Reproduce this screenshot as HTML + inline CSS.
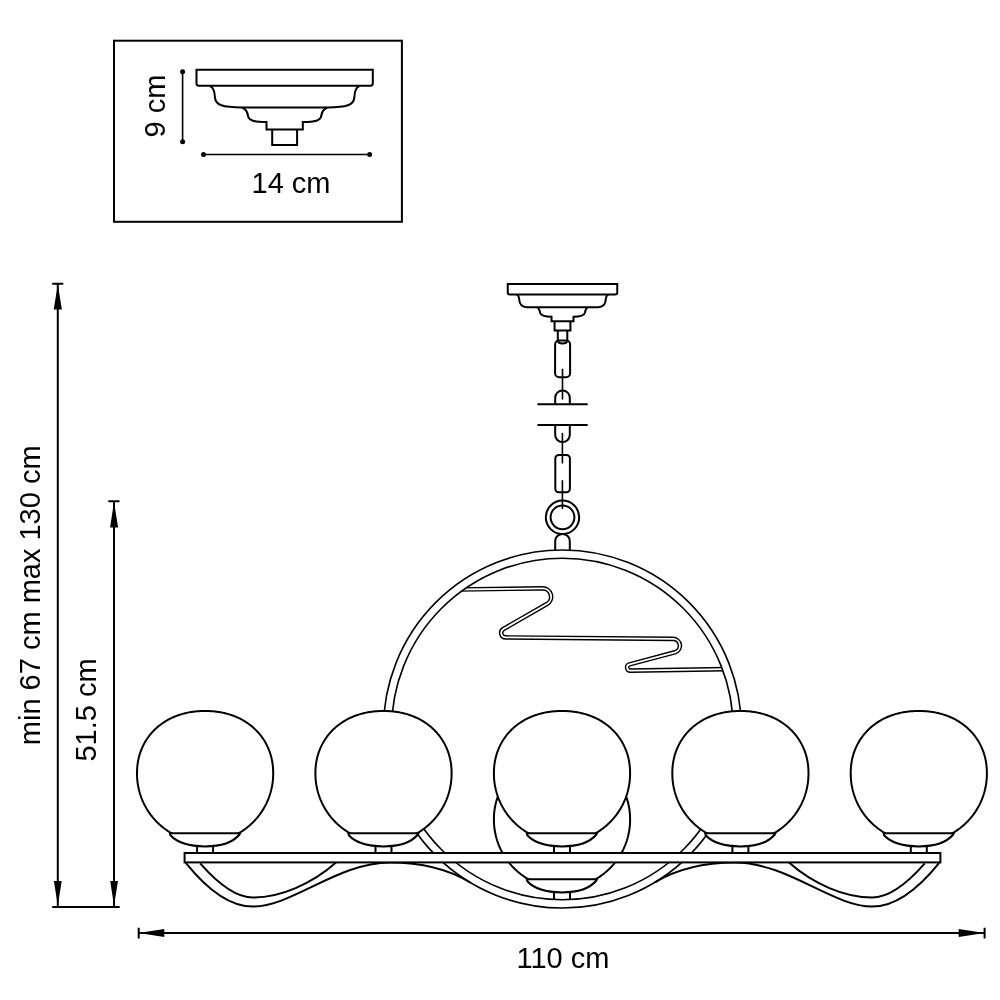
<!DOCTYPE html>
<html><head><meta charset="utf-8"><style>
html,body{margin:0;padding:0;background:#fff;}
body{width:1000px;height:1000px;overflow:hidden;}
svg{display:block;will-change:transform;}
</style></head><body>
<svg width="1000" height="1000" viewBox="0 0 1000 1000">
<style>
path,line,rect,circle,polygon{fill:none;stroke:#000;stroke-width:2;}
.wf{fill:#fff;}
.blk{fill:#000;stroke:none;}
text{font-family:"Liberation Sans",sans-serif;fill:#000;}
</style>
<rect x="114" y="40.7" width="287.9" height="181.1" />
<path class="wf" d="M196.5,69.7 L372.8,69.7 L372.8,83.6 Q372.8,85.7 370.7,85.7 L198.6,85.7 Q196.5,85.7 196.5,83.6 Z" />
<path d="M210,86 C214.3,88 214.6,93 215,98 C216,105 222,107.3 242,107.5 L327.3,107.5 C347.3,107.3 353.3,105 354.3,98 C354.7,93 355,88 359.3,86" />
<path d="M242,107.5 C246,109 247.5,112 248,116 C249,120.5 254,122 266.5,122 L266.5,129.5 L302.8,129.5 L302.8,122 C315.3,122 320.3,120.5 321.3,116 C321.8,112 323.3,109 327.3,107.5" />
<path d="M272.2,129.5 L272.2,145 L297.1,145 L297.1,129.5" />
<path style="stroke-width:1.6" d="M182.6,71.6 L182.6,141.7 M203.5,154.5 L369.6,154.5" />
<circle class="blk" cx="182.6" cy="71.8" r="2.5" />
<circle class="blk" cx="182.6" cy="141.7" r="2.5" />
<circle class="blk" cx="203.5" cy="154.5" r="2.5" />
<circle class="blk" cx="369.6" cy="154.5" r="2.5" />
<text x="291" y="192.8" font-size="29" text-anchor="middle">14 cm</text>
<text transform="translate(164.7,106) rotate(-90)" x="0" y="0" font-size="29" text-anchor="middle">9 cm</text>
<path d="M57.8,284 L57.8,906 M114,501.5 L114,906 M52.2,906.9 L119.7,906.9 M52.2,283.8 L63.3,283.8 M108.3,501.3 L119.5,501.3" />
<path d="M138.7,932.9 L984.6,932.9 M138.7,927.8 L138.7,938.4 M984.6,927.8 L984.6,938.4" />
<polygon class="blk" points="57.8,284.4 53.7,309.6 61.9,309.6" />
<polygon class="blk" points="57.8,905.8 53.9,881 61.7,881" />
<polygon class="blk" points="114,501.7 110.1,527.6 118.1,527.6" />
<polygon class="blk" points="114,905.8 110.2,881 118,881" />
<polygon class="blk" points="138.7,932.9 164.3,929 164.3,936.9" />
<polygon class="blk" points="984.6,932.9 958.7,929 958.7,936.9" />
<text x="563" y="968.2" font-size="29" text-anchor="middle">110 cm</text>
<text transform="translate(39.5,595.3) rotate(-90)" font-size="29" text-anchor="middle">min 67 cm max 130 cm</text>
<text transform="translate(95.8,710) rotate(-90)" font-size="29" text-anchor="middle">51.5 cm</text>
<path class="wf" d="M507.75,284 L617.25,284 L617.25,292.4 Q617.25,294.4 615.25,294.4 L509.75,294.4 Q507.75,294.4 507.75,292.4 Z" />
<path d="M516.5,294.6 C518.6,295.2 519.2,297 519.3,300 C519.6,304.5 521.5,307 527,307.2 L537.5,307.3 L587.5,307.3 L598,307.2 C603.5,307 605.4,304.5 605.7,300 C605.8,297 606.4,295.2 608.5,294.6 " />
<path d="M537.5,307.6 C539.4,308.4 539.8,310.8 540.2,313 C541,315.6 544,316.7 551.5,316.75 L551.5,321.25 L573.5,321.25 L573.5,316.75 C581,316.7 584,315.6 584.8,313 C585.2,310.8 585.6,308.4 587.5,307.6 " />
<path d="M554.6,321.25 L554.6,330.6 L570.4,330.6 L570.4,321.25" />
<path d="M557.8,330.6 L557.8,340 Q557.8,343.5 562.5,343.5 Q567.3,343.5 567.3,340 L567.3,330.6" />
<rect x="555.1" y="340.6" width="15" height="36.6" rx="4" />
<path style="stroke-width:1.6" d="M562.5,368.7 L562.5,399.5" />
<path d="M555.2,404.3 L555.2,397.8 A7.3,7.3 0 0 1 569.8,397.8 L569.8,404.3" />
<path d="M537.4,404.3 L587.7,404.3 M537.4,425 L587.7,425" />
<path d="M555.2,425 L555.2,434.8 A7.3,7.3 0 0 0 569.8,434.8 L569.8,425" />
<path style="stroke-width:1.6" d="M562.4,433 L562.4,463.5" />
<rect x="555.3" y="455" width="14.6" height="37.2" rx="3.5" />
<path style="stroke-width:1.6" d="M562.4,480.2 L562.4,509" />
<circle cx="562.5" cy="517.3" r="16.7" />
<circle cx="562.5" cy="517.3" r="11.9" />
<path d="M555.2,551 L555.2,541.2 A7.3,7.3 0 0 1 569.8,541.2 L569.8,551" />
<path style="stroke-width:4.6;stroke-linejoin:round" d="M458,589.5 L542.6,588.35 A8.4,8.4 0 0 1 546.9,604.03 L503.47,629.01 A4.5,4.5 0 0 0 505.67,637.41 L673.16,638.89 A6.8,6.8 0 0 1 674.85,652.26 L629.53,664.37 A3.2,3.2 0 0 0 630.41,670.66 L726,669.12" />
<path style="stroke:#fff;stroke-width:1.8;stroke-linejoin:round" d="M458,589.5 L542.6,588.35 A8.4,8.4 0 0 1 546.9,604.03 L503.47,629.01 A4.5,4.5 0 0 0 505.67,637.41 L673.16,638.89 A6.8,6.8 0 0 1 674.85,652.26 L629.53,664.37 A3.2,3.2 0 0 0 630.41,670.66 L726,669.12" />
<circle cx="562.4" cy="729.0" r="174.9" style="stroke-width:9.8" />
<circle cx="562.4" cy="729.0" r="174.9" style="stroke:#fff;stroke-width:6.6" />
<path d="M185.8,862.8 C198,878 224,906.6 253,906.6 C292,906.6 338,862.5 390,862.5 C420,862.5 448.6,869.4 470,882.3" />
<path d="M200.2,863.4 C213,878 233,897.6 253,897.6 C280,897.6 312,884 336,862.6" />
<path d="M939.2,862.8 C927,878 901,906.6 872,906.6 C833,906.6 787,862.5 735,862.5 C705,862.5 676.4,869.4 655,882.3" />
<path d="M924.8,863.4 C912,878 892,897.6 872,897.6 C845,897.6 813,884 789,862.6" />
<path class="wf" d="M630.1,819.6 L630.08,817.59 L630.01,815.73 L629.9,813.93 L629.75,812.16 L629.55,810.43 L629.31,808.72 L629.02,807.04 L628.7,805.37 L628.32,803.73 L627.91,802.11 L627.45,800.51 L626.95,798.93 L626.41,797.36 L625.82,795.82 L625.2,794.31 L624.53,792.81 L623.82,791.33 L623.08,789.88 L622.29,788.45 L621.46,787.05 L620.59,785.67 L619.69,784.31 L618.74,782.98 L617.76,781.68 L616.74,780.41 L615.68,779.16 L614.59,777.94 L613.47,776.75 L612.3,775.59 L611.11,774.46 L609.88,773.36 L608.62,772.29 L607.32,771.25 L606,770.25 L604.64,769.28 L603.25,768.34 L601.83,767.44 L600.39,766.57 L598.91,765.74 L597.41,764.94 L595.88,764.18 L594.33,763.46 L592.75,762.77 L591.15,762.12 L589.52,761.51 L587.86,760.93 L586.19,760.39 L584.49,759.89 L582.77,759.43 L581.03,759.01 L579.26,758.63 L577.48,758.29 L575.67,757.99 L573.83,757.73 L571.97,757.51 L570.09,757.32 L568.17,757.18 L566.21,757.08 L564.19,757.02 L562,757 L559.81,757.02 L557.79,757.08 L555.83,757.18 L553.91,757.32 L552.03,757.51 L550.17,757.73 L548.33,757.99 L546.52,758.29 L544.74,758.63 L542.97,759.01 L541.23,759.43 L539.51,759.89 L537.81,760.39 L536.14,760.93 L534.48,761.51 L532.85,762.12 L531.25,762.77 L529.67,763.46 L528.12,764.18 L526.59,764.94 L525.09,765.74 L523.61,766.57 L522.17,767.44 L520.75,768.34 L519.36,769.28 L518,770.25 L516.68,771.25 L515.38,772.29 L514.12,773.36 L512.89,774.46 L511.7,775.59 L510.53,776.75 L509.41,777.94 L508.32,779.16 L507.26,780.41 L506.24,781.68 L505.26,782.98 L504.31,784.31 L503.41,785.67 L502.54,787.05 L501.71,788.45 L500.92,789.88 L500.18,791.33 L499.47,792.81 L498.8,794.31 L498.18,795.82 L497.59,797.36 L497.05,798.93 L496.55,800.51 L496.09,802.11 L495.68,803.73 L495.3,805.37 L494.98,807.04 L494.69,808.72 L494.45,810.43 L494.25,812.16 L494.1,813.93 L493.99,815.73 L493.92,817.59 L493.9,819.6 L493.92,821.39 L493.99,823.19 L494.11,824.97 L494.27,826.76 L494.48,828.54 L494.74,830.32 L495.04,832.08 L495.39,833.84 L495.78,835.59 L496.22,837.33 L496.7,839.06 L497.23,840.77 L497.81,842.47 L498.42,844.15 L499.08,845.81 L499.79,847.46 L500.53,849.09 L501.32,850.7 L502.15,852.29 L503.02,853.85 L503.94,855.39 L504.89,856.91 L505.88,858.4 L506.91,859.86 L507.97,861.3 L509.08,862.71 L510.22,864.09 L511.39,865.44 L512.6,866.75 L513.85,868.04 L515.12,869.29 L516.43,870.51 L517.77,871.69 L519.14,872.83 L520.54,873.94 L521.97,875.02 L523.43,876.05 L524.91,877.05 L526.42,878.01 L527.95,878.92 L529.51,879.8 L531.08,880.63 L532.68,881.43 L534.3,882.18 L535.94,882.89 L537.6,883.55 L539.27,884.17 L540.96,884.75 L542.66,885.28 L544.37,885.77 L546.1,886.21 L547.84,886.6 L549.59,886.95 L551.35,887.26 L553.11,887.51 L554.88,887.72 L556.66,887.89 L558.44,888.01 L560.22,888.08 L562,888.1 L563.78,888.08 L565.56,888.01 L567.34,887.89 L569.12,887.72 L570.89,887.51 L572.65,887.26 L574.41,886.95 L576.16,886.6 L577.9,886.21 L579.63,885.77 L581.34,885.28 L583.04,884.75 L584.73,884.17 L586.4,883.55 L588.06,882.89 L589.7,882.18 L591.32,881.43 L592.92,880.63 L594.49,879.8 L596.05,878.92 L597.58,878.01 L599.09,877.05 L600.57,876.05 L602.03,875.02 L603.46,873.94 L604.86,872.83 L606.23,871.69 L607.57,870.51 L608.88,869.29 L610.15,868.04 L611.4,866.75 L612.61,865.44 L613.78,864.09 L614.92,862.71 L616.03,861.3 L617.09,859.86 L618.12,858.4 L619.11,856.91 L620.06,855.39 L620.98,853.85 L621.85,852.29 L622.68,850.7 L623.47,849.09 L624.21,847.46 L624.92,845.81 L625.58,844.15 L626.19,842.47 L626.77,840.77 L627.3,839.06 L627.78,837.33 L628.22,835.59 L628.61,833.84 L628.96,832.08 L629.26,830.32 L629.52,828.54 L629.73,826.76 L629.89,824.97 L630.01,823.19 L630.08,821.39 Z" />
<path class="wf" d="M526.8,879.3 L597,879.3 L596.4,880.5 C589,889.4 576,892.4 562,892.4 C548,892.4 534.3,888.9 527.3,881.3 Z" />
<path d="M554,891.9 L554,899 M570,891.9 L570,899" />
<rect class="wf" x="184.6" y="853" width="755.8" height="9.4" />
<path class="wf" d="M273.2,773.6 L273.18,771.59 L273.11,769.73 L273,767.93 L272.85,766.16 L272.65,764.43 L272.41,762.72 L272.12,761.04 L271.8,759.37 L271.42,757.73 L271.01,756.11 L270.55,754.51 L270.05,752.93 L269.51,751.36 L268.92,749.82 L268.3,748.31 L267.63,746.81 L266.92,745.33 L266.18,743.88 L265.39,742.45 L264.56,741.05 L263.69,739.67 L262.79,738.31 L261.84,736.98 L260.86,735.68 L259.84,734.41 L258.78,733.16 L257.69,731.94 L256.57,730.75 L255.4,729.59 L254.21,728.46 L252.98,727.36 L251.72,726.29 L250.42,725.25 L249.1,724.25 L247.74,723.28 L246.35,722.34 L244.93,721.44 L243.49,720.57 L242.01,719.74 L240.51,718.94 L238.98,718.18 L237.43,717.46 L235.85,716.77 L234.25,716.12 L232.62,715.51 L230.96,714.93 L229.29,714.39 L227.59,713.89 L225.87,713.43 L224.13,713.01 L222.36,712.63 L220.58,712.29 L218.77,711.99 L216.93,711.73 L215.07,711.51 L213.19,711.32 L211.27,711.18 L209.31,711.08 L207.29,711.02 L205.1,711 L202.91,711.02 L200.89,711.08 L198.93,711.18 L197.01,711.32 L195.13,711.51 L193.27,711.73 L191.43,711.99 L189.62,712.29 L187.84,712.63 L186.07,713.01 L184.33,713.43 L182.61,713.89 L180.91,714.39 L179.24,714.93 L177.58,715.51 L175.95,716.12 L174.35,716.77 L172.77,717.46 L171.22,718.18 L169.69,718.94 L168.19,719.74 L166.71,720.57 L165.27,721.44 L163.85,722.34 L162.46,723.28 L161.1,724.25 L159.78,725.25 L158.48,726.29 L157.22,727.36 L155.99,728.46 L154.8,729.59 L153.63,730.75 L152.51,731.94 L151.42,733.16 L150.36,734.41 L149.34,735.68 L148.36,736.98 L147.41,738.31 L146.51,739.67 L145.64,741.05 L144.81,742.45 L144.02,743.88 L143.28,745.33 L142.57,746.81 L141.9,748.31 L141.28,749.82 L140.69,751.36 L140.15,752.93 L139.65,754.51 L139.19,756.11 L138.78,757.73 L138.4,759.37 L138.08,761.04 L137.79,762.72 L137.55,764.43 L137.35,766.16 L137.2,767.93 L137.09,769.73 L137.02,771.59 L137,773.6 L137.02,775.39 L137.09,777.19 L137.21,778.97 L137.37,780.76 L137.58,782.54 L137.84,784.32 L138.14,786.08 L138.49,787.84 L138.88,789.59 L139.32,791.33 L139.8,793.06 L140.33,794.77 L140.91,796.47 L141.52,798.15 L142.18,799.81 L142.89,801.46 L143.63,803.09 L144.42,804.7 L145.25,806.29 L146.12,807.85 L147.04,809.39 L147.99,810.91 L148.98,812.4 L150.01,813.86 L151.07,815.3 L152.18,816.71 L153.32,818.09 L154.49,819.44 L155.7,820.75 L156.95,822.04 L158.22,823.29 L159.53,824.51 L160.87,825.69 L162.24,826.83 L163.64,827.94 L165.07,829.02 L166.53,830.05 L168.01,831.05 L169.52,832.01 L171.05,832.92 L172.61,833.8 L174.18,834.63 L175.78,835.43 L177.4,836.18 L179.04,836.89 L180.7,837.55 L182.37,838.17 L184.06,838.75 L185.76,839.28 L187.47,839.77 L189.2,840.21 L190.94,840.6 L192.69,840.95 L194.45,841.26 L196.21,841.51 L197.98,841.72 L199.76,841.89 L201.54,842.01 L203.32,842.08 L205.1,842.1 L206.88,842.08 L208.66,842.01 L210.44,841.89 L212.22,841.72 L213.99,841.51 L215.75,841.26 L217.51,840.95 L219.26,840.6 L221,840.21 L222.73,839.77 L224.44,839.28 L226.14,838.75 L227.83,838.17 L229.5,837.55 L231.16,836.89 L232.8,836.18 L234.42,835.43 L236.02,834.63 L237.59,833.8 L239.15,832.92 L240.68,832.01 L242.19,831.05 L243.67,830.05 L245.13,829.02 L246.56,827.94 L247.96,826.83 L249.33,825.69 L250.67,824.51 L251.98,823.29 L253.25,822.04 L254.5,820.75 L255.71,819.44 L256.88,818.09 L258.02,816.71 L259.13,815.3 L260.19,813.86 L261.22,812.4 L262.21,810.91 L263.16,809.39 L264.08,807.85 L264.95,806.29 L265.78,804.7 L266.57,803.09 L267.31,801.46 L268.02,799.81 L268.68,798.15 L269.29,796.47 L269.87,794.77 L270.4,793.06 L270.88,791.33 L271.32,789.59 L271.71,787.84 L272.06,786.08 L272.36,784.32 L272.62,782.54 L272.83,780.76 L272.99,778.97 L273.11,777.19 L273.18,775.39 Z" />
<path class="wf" d="M169.9,833.3 L240.1,833.3 L239.5,834.5 C232.1,843.4 219.1,846.4 205.1,846.4 C191.1,846.4 177.4,842.9 170.4,835.3 Z" />
<path d="M197.1,845.9 L197.1,853 M213.1,845.9 L213.1,853" />
<path class="wf" d="M451.6,773.6 L451.58,771.59 L451.51,769.73 L451.4,767.93 L451.25,766.16 L451.05,764.43 L450.81,762.72 L450.52,761.04 L450.2,759.37 L449.82,757.73 L449.41,756.11 L448.95,754.51 L448.45,752.93 L447.91,751.36 L447.32,749.82 L446.7,748.31 L446.03,746.81 L445.32,745.33 L444.58,743.88 L443.79,742.45 L442.96,741.05 L442.09,739.67 L441.19,738.31 L440.24,736.98 L439.26,735.68 L438.24,734.41 L437.18,733.16 L436.09,731.94 L434.97,730.75 L433.8,729.59 L432.61,728.46 L431.38,727.36 L430.12,726.29 L428.82,725.25 L427.5,724.25 L426.14,723.28 L424.75,722.34 L423.33,721.44 L421.89,720.57 L420.41,719.74 L418.91,718.94 L417.38,718.18 L415.83,717.46 L414.25,716.77 L412.65,716.12 L411.02,715.51 L409.36,714.93 L407.69,714.39 L405.99,713.89 L404.27,713.43 L402.53,713.01 L400.76,712.63 L398.98,712.29 L397.17,711.99 L395.33,711.73 L393.47,711.51 L391.59,711.32 L389.67,711.18 L387.71,711.08 L385.69,711.02 L383.5,711 L381.31,711.02 L379.29,711.08 L377.33,711.18 L375.41,711.32 L373.53,711.51 L371.67,711.73 L369.83,711.99 L368.02,712.29 L366.24,712.63 L364.47,713.01 L362.73,713.43 L361.01,713.89 L359.31,714.39 L357.64,714.93 L355.98,715.51 L354.35,716.12 L352.75,716.77 L351.17,717.46 L349.62,718.18 L348.09,718.94 L346.59,719.74 L345.11,720.57 L343.67,721.44 L342.25,722.34 L340.86,723.28 L339.5,724.25 L338.18,725.25 L336.88,726.29 L335.62,727.36 L334.39,728.46 L333.2,729.59 L332.03,730.75 L330.91,731.94 L329.82,733.16 L328.76,734.41 L327.74,735.68 L326.76,736.98 L325.81,738.31 L324.91,739.67 L324.04,741.05 L323.21,742.45 L322.42,743.88 L321.68,745.33 L320.97,746.81 L320.3,748.31 L319.68,749.82 L319.09,751.36 L318.55,752.93 L318.05,754.51 L317.59,756.11 L317.18,757.73 L316.8,759.37 L316.48,761.04 L316.19,762.72 L315.95,764.43 L315.75,766.16 L315.6,767.93 L315.49,769.73 L315.42,771.59 L315.4,773.6 L315.42,775.39 L315.49,777.19 L315.61,778.97 L315.77,780.76 L315.98,782.54 L316.24,784.32 L316.54,786.08 L316.89,787.84 L317.28,789.59 L317.72,791.33 L318.2,793.06 L318.73,794.77 L319.31,796.47 L319.92,798.15 L320.58,799.81 L321.29,801.46 L322.03,803.09 L322.82,804.7 L323.65,806.29 L324.52,807.85 L325.44,809.39 L326.39,810.91 L327.38,812.4 L328.41,813.86 L329.47,815.3 L330.58,816.71 L331.72,818.09 L332.89,819.44 L334.1,820.75 L335.35,822.04 L336.62,823.29 L337.93,824.51 L339.27,825.69 L340.64,826.83 L342.04,827.94 L343.47,829.02 L344.93,830.05 L346.41,831.05 L347.92,832.01 L349.45,832.92 L351.01,833.8 L352.58,834.63 L354.18,835.43 L355.8,836.18 L357.44,836.89 L359.1,837.55 L360.77,838.17 L362.46,838.75 L364.16,839.28 L365.87,839.77 L367.6,840.21 L369.34,840.6 L371.09,840.95 L372.85,841.26 L374.61,841.51 L376.38,841.72 L378.16,841.89 L379.94,842.01 L381.72,842.08 L383.5,842.1 L385.28,842.08 L387.06,842.01 L388.84,841.89 L390.62,841.72 L392.39,841.51 L394.15,841.26 L395.91,840.95 L397.66,840.6 L399.4,840.21 L401.13,839.77 L402.84,839.28 L404.54,838.75 L406.23,838.17 L407.9,837.55 L409.56,836.89 L411.2,836.18 L412.82,835.43 L414.42,834.63 L415.99,833.8 L417.55,832.92 L419.08,832.01 L420.59,831.05 L422.07,830.05 L423.53,829.02 L424.96,827.94 L426.36,826.83 L427.73,825.69 L429.07,824.51 L430.38,823.29 L431.65,822.04 L432.9,820.75 L434.11,819.44 L435.28,818.09 L436.42,816.71 L437.53,815.3 L438.59,813.86 L439.62,812.4 L440.61,810.91 L441.56,809.39 L442.48,807.85 L443.35,806.29 L444.18,804.7 L444.97,803.09 L445.71,801.46 L446.42,799.81 L447.08,798.15 L447.69,796.47 L448.27,794.77 L448.8,793.06 L449.28,791.33 L449.72,789.59 L450.11,787.84 L450.46,786.08 L450.76,784.32 L451.02,782.54 L451.23,780.76 L451.39,778.97 L451.51,777.19 L451.58,775.39 Z" />
<path class="wf" d="M348.3,833.3 L418.5,833.3 L417.9,834.5 C410.5,843.4 397.5,846.4 383.5,846.4 C369.5,846.4 355.8,842.9 348.8,835.3 Z" />
<path d="M375.5,845.9 L375.5,853 M391.5,845.9 L391.5,853" />
<path class="wf" d="M630.1,773.6 L630.08,771.59 L630.01,769.73 L629.9,767.93 L629.75,766.16 L629.55,764.43 L629.31,762.72 L629.02,761.04 L628.7,759.37 L628.32,757.73 L627.91,756.11 L627.45,754.51 L626.95,752.93 L626.41,751.36 L625.82,749.82 L625.2,748.31 L624.53,746.81 L623.82,745.33 L623.08,743.88 L622.29,742.45 L621.46,741.05 L620.59,739.67 L619.69,738.31 L618.74,736.98 L617.76,735.68 L616.74,734.41 L615.68,733.16 L614.59,731.94 L613.47,730.75 L612.3,729.59 L611.11,728.46 L609.88,727.36 L608.62,726.29 L607.32,725.25 L606,724.25 L604.64,723.28 L603.25,722.34 L601.83,721.44 L600.39,720.57 L598.91,719.74 L597.41,718.94 L595.88,718.18 L594.33,717.46 L592.75,716.77 L591.15,716.12 L589.52,715.51 L587.86,714.93 L586.19,714.39 L584.49,713.89 L582.77,713.43 L581.03,713.01 L579.26,712.63 L577.48,712.29 L575.67,711.99 L573.83,711.73 L571.97,711.51 L570.09,711.32 L568.17,711.18 L566.21,711.08 L564.19,711.02 L562,711 L559.81,711.02 L557.79,711.08 L555.83,711.18 L553.91,711.32 L552.03,711.51 L550.17,711.73 L548.33,711.99 L546.52,712.29 L544.74,712.63 L542.97,713.01 L541.23,713.43 L539.51,713.89 L537.81,714.39 L536.14,714.93 L534.48,715.51 L532.85,716.12 L531.25,716.77 L529.67,717.46 L528.12,718.18 L526.59,718.94 L525.09,719.74 L523.61,720.57 L522.17,721.44 L520.75,722.34 L519.36,723.28 L518,724.25 L516.68,725.25 L515.38,726.29 L514.12,727.36 L512.89,728.46 L511.7,729.59 L510.53,730.75 L509.41,731.94 L508.32,733.16 L507.26,734.41 L506.24,735.68 L505.26,736.98 L504.31,738.31 L503.41,739.67 L502.54,741.05 L501.71,742.45 L500.92,743.88 L500.18,745.33 L499.47,746.81 L498.8,748.31 L498.18,749.82 L497.59,751.36 L497.05,752.93 L496.55,754.51 L496.09,756.11 L495.68,757.73 L495.3,759.37 L494.98,761.04 L494.69,762.72 L494.45,764.43 L494.25,766.16 L494.1,767.93 L493.99,769.73 L493.92,771.59 L493.9,773.6 L493.92,775.39 L493.99,777.19 L494.11,778.97 L494.27,780.76 L494.48,782.54 L494.74,784.32 L495.04,786.08 L495.39,787.84 L495.78,789.59 L496.22,791.33 L496.7,793.06 L497.23,794.77 L497.81,796.47 L498.42,798.15 L499.08,799.81 L499.79,801.46 L500.53,803.09 L501.32,804.7 L502.15,806.29 L503.02,807.85 L503.94,809.39 L504.89,810.91 L505.88,812.4 L506.91,813.86 L507.97,815.3 L509.08,816.71 L510.22,818.09 L511.39,819.44 L512.6,820.75 L513.85,822.04 L515.12,823.29 L516.43,824.51 L517.77,825.69 L519.14,826.83 L520.54,827.94 L521.97,829.02 L523.43,830.05 L524.91,831.05 L526.42,832.01 L527.95,832.92 L529.51,833.8 L531.08,834.63 L532.68,835.43 L534.3,836.18 L535.94,836.89 L537.6,837.55 L539.27,838.17 L540.96,838.75 L542.66,839.28 L544.37,839.77 L546.1,840.21 L547.84,840.6 L549.59,840.95 L551.35,841.26 L553.11,841.51 L554.88,841.72 L556.66,841.89 L558.44,842.01 L560.22,842.08 L562,842.1 L563.78,842.08 L565.56,842.01 L567.34,841.89 L569.12,841.72 L570.89,841.51 L572.65,841.26 L574.41,840.95 L576.16,840.6 L577.9,840.21 L579.63,839.77 L581.34,839.28 L583.04,838.75 L584.73,838.17 L586.4,837.55 L588.06,836.89 L589.7,836.18 L591.32,835.43 L592.92,834.63 L594.49,833.8 L596.05,832.92 L597.58,832.01 L599.09,831.05 L600.57,830.05 L602.03,829.02 L603.46,827.94 L604.86,826.83 L606.23,825.69 L607.57,824.51 L608.88,823.29 L610.15,822.04 L611.4,820.75 L612.61,819.44 L613.78,818.09 L614.92,816.71 L616.03,815.3 L617.09,813.86 L618.12,812.4 L619.11,810.91 L620.06,809.39 L620.98,807.85 L621.85,806.29 L622.68,804.7 L623.47,803.09 L624.21,801.46 L624.92,799.81 L625.58,798.15 L626.19,796.47 L626.77,794.77 L627.3,793.06 L627.78,791.33 L628.22,789.59 L628.61,787.84 L628.96,786.08 L629.26,784.32 L629.52,782.54 L629.73,780.76 L629.89,778.97 L630.01,777.19 L630.08,775.39 Z" />
<path class="wf" d="M526.8,833.3 L597,833.3 L596.4,834.5 C589,843.4 576,846.4 562,846.4 C548,846.4 534.3,842.9 527.3,835.3 Z" />
<path d="M554,845.9 L554,853 M570,845.9 L570,853" />
<path class="wf" d="M808.5,773.6 L808.48,771.59 L808.41,769.73 L808.3,767.93 L808.15,766.16 L807.95,764.43 L807.71,762.72 L807.42,761.04 L807.1,759.37 L806.72,757.73 L806.31,756.11 L805.85,754.51 L805.35,752.93 L804.81,751.36 L804.22,749.82 L803.6,748.31 L802.93,746.81 L802.22,745.33 L801.48,743.88 L800.69,742.45 L799.86,741.05 L798.99,739.67 L798.09,738.31 L797.14,736.98 L796.16,735.68 L795.14,734.41 L794.08,733.16 L792.99,731.94 L791.87,730.75 L790.7,729.59 L789.51,728.46 L788.28,727.36 L787.02,726.29 L785.72,725.25 L784.4,724.25 L783.04,723.28 L781.65,722.34 L780.23,721.44 L778.79,720.57 L777.31,719.74 L775.81,718.94 L774.28,718.18 L772.73,717.46 L771.15,716.77 L769.55,716.12 L767.92,715.51 L766.26,714.93 L764.59,714.39 L762.89,713.89 L761.17,713.43 L759.43,713.01 L757.66,712.63 L755.88,712.29 L754.07,711.99 L752.23,711.73 L750.37,711.51 L748.49,711.32 L746.57,711.18 L744.61,711.08 L742.59,711.02 L740.4,711 L738.21,711.02 L736.19,711.08 L734.23,711.18 L732.31,711.32 L730.43,711.51 L728.57,711.73 L726.73,711.99 L724.92,712.29 L723.14,712.63 L721.37,713.01 L719.63,713.43 L717.91,713.89 L716.21,714.39 L714.54,714.93 L712.88,715.51 L711.25,716.12 L709.65,716.77 L708.07,717.46 L706.52,718.18 L704.99,718.94 L703.49,719.74 L702.01,720.57 L700.57,721.44 L699.15,722.34 L697.76,723.28 L696.4,724.25 L695.08,725.25 L693.78,726.29 L692.52,727.36 L691.29,728.46 L690.1,729.59 L688.93,730.75 L687.81,731.94 L686.72,733.16 L685.66,734.41 L684.64,735.68 L683.66,736.98 L682.71,738.31 L681.81,739.67 L680.94,741.05 L680.11,742.45 L679.32,743.88 L678.58,745.33 L677.87,746.81 L677.2,748.31 L676.58,749.82 L675.99,751.36 L675.45,752.93 L674.95,754.51 L674.49,756.11 L674.08,757.73 L673.7,759.37 L673.38,761.04 L673.09,762.72 L672.85,764.43 L672.65,766.16 L672.5,767.93 L672.39,769.73 L672.32,771.59 L672.3,773.6 L672.32,775.39 L672.39,777.19 L672.51,778.97 L672.67,780.76 L672.88,782.54 L673.14,784.32 L673.44,786.08 L673.79,787.84 L674.18,789.59 L674.62,791.33 L675.1,793.06 L675.63,794.77 L676.21,796.47 L676.82,798.15 L677.48,799.81 L678.19,801.46 L678.93,803.09 L679.72,804.7 L680.55,806.29 L681.42,807.85 L682.34,809.39 L683.29,810.91 L684.28,812.4 L685.31,813.86 L686.37,815.3 L687.48,816.71 L688.62,818.09 L689.79,819.44 L691,820.75 L692.25,822.04 L693.52,823.29 L694.83,824.51 L696.17,825.69 L697.54,826.83 L698.94,827.94 L700.37,829.02 L701.83,830.05 L703.31,831.05 L704.82,832.01 L706.35,832.92 L707.91,833.8 L709.48,834.63 L711.08,835.43 L712.7,836.18 L714.34,836.89 L716,837.55 L717.67,838.17 L719.36,838.75 L721.06,839.28 L722.77,839.77 L724.5,840.21 L726.24,840.6 L727.99,840.95 L729.75,841.26 L731.51,841.51 L733.28,841.72 L735.06,841.89 L736.84,842.01 L738.62,842.08 L740.4,842.1 L742.18,842.08 L743.96,842.01 L745.74,841.89 L747.52,841.72 L749.29,841.51 L751.05,841.26 L752.81,840.95 L754.56,840.6 L756.3,840.21 L758.03,839.77 L759.74,839.28 L761.44,838.75 L763.13,838.17 L764.8,837.55 L766.46,836.89 L768.1,836.18 L769.72,835.43 L771.32,834.63 L772.89,833.8 L774.45,832.92 L775.98,832.01 L777.49,831.05 L778.97,830.05 L780.43,829.02 L781.86,827.94 L783.26,826.83 L784.63,825.69 L785.97,824.51 L787.28,823.29 L788.55,822.04 L789.8,820.75 L791.01,819.44 L792.18,818.09 L793.32,816.71 L794.43,815.3 L795.49,813.86 L796.52,812.4 L797.51,810.91 L798.46,809.39 L799.38,807.85 L800.25,806.29 L801.08,804.7 L801.87,803.09 L802.61,801.46 L803.32,799.81 L803.98,798.15 L804.59,796.47 L805.17,794.77 L805.7,793.06 L806.18,791.33 L806.62,789.59 L807.01,787.84 L807.36,786.08 L807.66,784.32 L807.92,782.54 L808.13,780.76 L808.29,778.97 L808.41,777.19 L808.48,775.39 Z" />
<path class="wf" d="M705.2,833.3 L775.4,833.3 L774.8,834.5 C767.4,843.4 754.4,846.4 740.4,846.4 C726.4,846.4 712.7,842.9 705.7,835.3 Z" />
<path d="M732.4,845.9 L732.4,853 M748.4,845.9 L748.4,853" />
<path class="wf" d="M986.9,773.6 L986.88,771.59 L986.81,769.73 L986.7,767.93 L986.55,766.16 L986.35,764.43 L986.11,762.72 L985.82,761.04 L985.5,759.37 L985.12,757.73 L984.71,756.11 L984.25,754.51 L983.75,752.93 L983.21,751.36 L982.62,749.82 L982,748.31 L981.33,746.81 L980.62,745.33 L979.88,743.88 L979.09,742.45 L978.26,741.05 L977.39,739.67 L976.49,738.31 L975.54,736.98 L974.56,735.68 L973.54,734.41 L972.48,733.16 L971.39,731.94 L970.27,730.75 L969.1,729.59 L967.91,728.46 L966.68,727.36 L965.42,726.29 L964.12,725.25 L962.8,724.25 L961.44,723.28 L960.05,722.34 L958.63,721.44 L957.19,720.57 L955.71,719.74 L954.21,718.94 L952.68,718.18 L951.13,717.46 L949.55,716.77 L947.95,716.12 L946.32,715.51 L944.66,714.93 L942.99,714.39 L941.29,713.89 L939.57,713.43 L937.83,713.01 L936.06,712.63 L934.28,712.29 L932.47,711.99 L930.63,711.73 L928.77,711.51 L926.89,711.32 L924.97,711.18 L923.01,711.08 L920.99,711.02 L918.8,711 L916.61,711.02 L914.59,711.08 L912.63,711.18 L910.71,711.32 L908.83,711.51 L906.97,711.73 L905.13,711.99 L903.32,712.29 L901.54,712.63 L899.77,713.01 L898.03,713.43 L896.31,713.89 L894.61,714.39 L892.94,714.93 L891.28,715.51 L889.65,716.12 L888.05,716.77 L886.47,717.46 L884.92,718.18 L883.39,718.94 L881.89,719.74 L880.41,720.57 L878.97,721.44 L877.55,722.34 L876.16,723.28 L874.8,724.25 L873.48,725.25 L872.18,726.29 L870.92,727.36 L869.69,728.46 L868.5,729.59 L867.33,730.75 L866.21,731.94 L865.12,733.16 L864.06,734.41 L863.04,735.68 L862.06,736.98 L861.11,738.31 L860.21,739.67 L859.34,741.05 L858.51,742.45 L857.72,743.88 L856.98,745.33 L856.27,746.81 L855.6,748.31 L854.98,749.82 L854.39,751.36 L853.85,752.93 L853.35,754.51 L852.89,756.11 L852.48,757.73 L852.1,759.37 L851.78,761.04 L851.49,762.72 L851.25,764.43 L851.05,766.16 L850.9,767.93 L850.79,769.73 L850.72,771.59 L850.7,773.6 L850.72,775.39 L850.79,777.19 L850.91,778.97 L851.07,780.76 L851.28,782.54 L851.54,784.32 L851.84,786.08 L852.19,787.84 L852.58,789.59 L853.02,791.33 L853.5,793.06 L854.03,794.77 L854.61,796.47 L855.22,798.15 L855.88,799.81 L856.59,801.46 L857.33,803.09 L858.12,804.7 L858.95,806.29 L859.82,807.85 L860.74,809.39 L861.69,810.91 L862.68,812.4 L863.71,813.86 L864.77,815.3 L865.88,816.71 L867.02,818.09 L868.19,819.44 L869.4,820.75 L870.65,822.04 L871.92,823.29 L873.23,824.51 L874.57,825.69 L875.94,826.83 L877.34,827.94 L878.77,829.02 L880.23,830.05 L881.71,831.05 L883.22,832.01 L884.75,832.92 L886.31,833.8 L887.88,834.63 L889.48,835.43 L891.1,836.18 L892.74,836.89 L894.4,837.55 L896.07,838.17 L897.76,838.75 L899.46,839.28 L901.17,839.77 L902.9,840.21 L904.64,840.6 L906.39,840.95 L908.15,841.26 L909.91,841.51 L911.68,841.72 L913.46,841.89 L915.24,842.01 L917.02,842.08 L918.8,842.1 L920.58,842.08 L922.36,842.01 L924.14,841.89 L925.92,841.72 L927.69,841.51 L929.45,841.26 L931.21,840.95 L932.96,840.6 L934.7,840.21 L936.43,839.77 L938.14,839.28 L939.84,838.75 L941.53,838.17 L943.2,837.55 L944.86,836.89 L946.5,836.18 L948.12,835.43 L949.72,834.63 L951.29,833.8 L952.85,832.92 L954.38,832.01 L955.89,831.05 L957.37,830.05 L958.83,829.02 L960.26,827.94 L961.66,826.83 L963.03,825.69 L964.37,824.51 L965.68,823.29 L966.95,822.04 L968.2,820.75 L969.41,819.44 L970.58,818.09 L971.72,816.71 L972.83,815.3 L973.89,813.86 L974.92,812.4 L975.91,810.91 L976.86,809.39 L977.78,807.85 L978.65,806.29 L979.48,804.7 L980.27,803.09 L981.01,801.46 L981.72,799.81 L982.38,798.15 L982.99,796.47 L983.57,794.77 L984.1,793.06 L984.58,791.33 L985.02,789.59 L985.41,787.84 L985.76,786.08 L986.06,784.32 L986.32,782.54 L986.53,780.76 L986.69,778.97 L986.81,777.19 L986.88,775.39 Z" />
<path class="wf" d="M883.6,833.3 L953.8,833.3 L953.2,834.5 C945.8,843.4 932.8,846.4 918.8,846.4 C904.8,846.4 891.1,842.9 884.1,835.3 Z" />
<path d="M910.8,845.9 L910.8,853 M926.8,845.9 L926.8,853" />
</svg>
</body></html>
